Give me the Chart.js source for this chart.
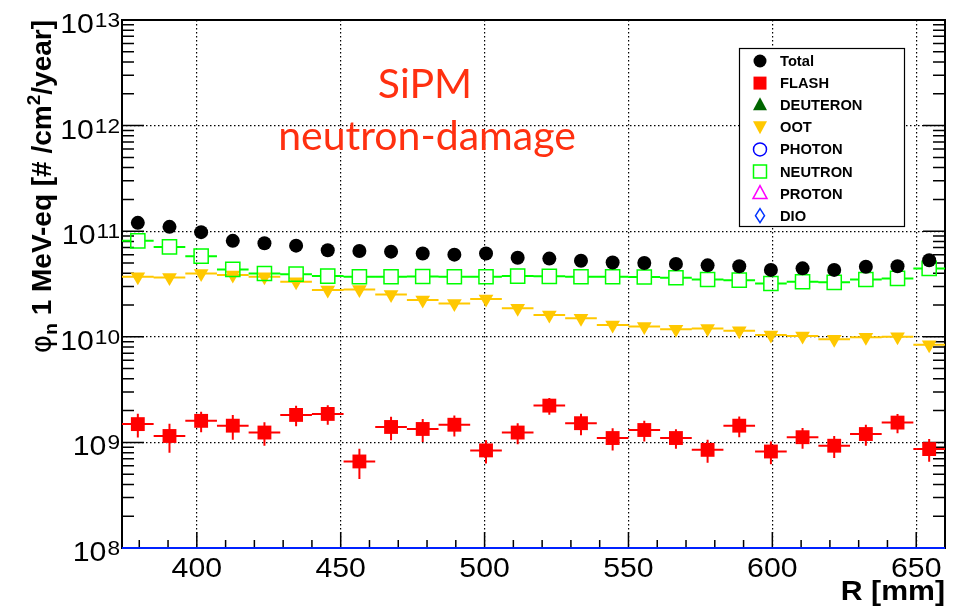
<!DOCTYPE html>
<html>
<head>
<meta charset="utf-8">
<script src="https://cdn.jsdelivr.net/npm/chart.js@4.4.1/dist/chart.umd.min.js"></script>
<style>
  html, body { margin: 0; padding: 0; background: #fff; }
  #wrap { width: 958px; height: 613px; }
</style>
</head>
<body>
<div id="wrap"><canvas id="chart" width="958" height="613"></canvas></div>
<script>
// bin centres in R [mm], bins are 11 mm wide
const binCenters = [379.5, 390.5, 401.5, 412.5, 423.5, 434.5, 445.5, 456.5, 467.5, 478.5, 489.5, 500.5, 511.5,
                    522.5, 533.5, 544.5, 555.5, 566.5, 577.5, 588.5, 599.5, 610.5, 621.5, 632.5, 643.5, 654.5];
const binHalfWidth = 5.5;

const totalFlux = [1.20e11, 1.10e11, 9.8e10, 8.1e10, 7.7e10, 7.3e10, 6.6e10, 6.5e10, 6.4e10, 6.15e10, 6.0e10, 6.15e10, 5.6e10,
                   5.5e10, 5.25e10, 5.05e10, 5.0e10, 4.9e10, 4.75e10, 4.65e10, 4.3e10, 4.45e10, 4.3e10, 4.6e10, 4.65e10, 5.3e10];
const flashFlux = [1.49e9, 1.15e9, 1.6e9, 1.44e9, 1.24e9, 1.82e9, 1.86e9, 6.6e8, 1.4e9, 1.34e9, 1.47e9, 8.4e8, 1.24e9,
                   2.23e9, 1.52e9, 1.1e9, 1.31e9, 1.1e9, 8.5e8, 1.44e9, 8.2e8, 1.12e9, 9.3e8, 1.2e9, 1.54e9, 8.65e8];
const flashErr = [3.8e8, 3.5e8, 3.5e8, 3.8e8, 3.1e8, 4.0e8, 3.9e8, 2.1e8, 3.5e8, 3.3e8, 3.3e8, 2.1e8, 2.8e8,
                  4.0e8, 3.5e8, 2.6e8, 2.9e8, 2.3e8, 2.1e8, 3.2e8, 2.0e8, 2.5e8, 2.2e8, 2.7e8, 3.2e8, 2.1e8];
const ootFlux = [3.7e10, 3.65e10, 3.98e10, 3.84e10, 3.7e10, 3.32e10, 2.77e10, 2.8e10, 2.52e10, 2.23e10, 2.07e10, 2.28e10, 1.86e10,
                 1.61e10, 1.5e10, 1.29e10, 1.25e10, 1.18e10, 1.2e10, 1.14e10, 1.04e10, 1.02e10, 9.5e9, 9.9e9, 1.0e10, 8.4e9];
const neutronFlux = [8.1e10, 7.1e10, 5.8e10, 4.35e10, 3.98e10, 3.92e10, 3.76e10, 3.7e10, 3.7e10, 3.72e10, 3.7e10, 3.7e10, 3.76e10,
                     3.74e10, 3.7e10, 3.7e10, 3.68e10, 3.62e10, 3.49e10, 3.44e10, 3.2e10, 3.32e10, 3.28e10, 3.49e10, 3.57e10, 4.44e10];
// empty components (all bins zero)
const deuteronFlux = [0, 0, 0, 0, 0, 0, 0, 0, 0, 0, 0, 0, 0, 0, 0, 0, 0, 0, 0, 0, 0, 0, 0, 0, 0, 0];
const photonFlux = [0, 0, 0, 0, 0, 0, 0, 0, 0, 0, 0, 0, 0, 0, 0, 0, 0, 0, 0, 0, 0, 0, 0, 0, 0, 0];
const protonFlux = [0, 0, 0, 0, 0, 0, 0, 0, 0, 0, 0, 0, 0, 0, 0, 0, 0, 0, 0, 0, 0, 0, 0, 0, 0, 0];
const dioFlux = [0, 0, 0, 0, 0, 0, 0, 0, 0, 0, 0, 0, 0, 0, 0, 0, 0, 0, 0, 0, 0, 0, 0, 0, 0, 0];

const xTicks = [400, 450, 500, 550, 600, 650];
const yTickExps = [8, 9, 10, 11, 12, 13];
const legendLabels = ['Total', 'FLASH', 'DEUTERON', 'OOT', 'PHOTON', 'NEUTRON', 'PROTON', 'DIO'];

const pts = vals => vals.map((v, i) => ({ x: binCenters[i], y: v }));

function drawText(ctx, text, x, y, font, align, sx) {
    ctx.save();
    ctx.font = font;
    ctx.textAlign = align;
    ctx.textBaseline = 'alphabetic';
    ctx.translate(x, y);
    ctx.scale(sx || 1, 1);
    ctx.fillText(text, 0, 0);
    ctx.restore();
}

function marker(ctx, kind, x, y, fill, stroke) {
    ctx.save();
    ctx.beginPath();
    if (kind === 'circle') ctx.arc(x, y, 6.5, 0, Math.PI * 2);
    if (kind === 'square') ctx.rect(x - 6.5, y - 6.5, 13, 13);
    if (kind === 'up') { ctx.moveTo(x, y - 8); ctx.lineTo(x + 7, y + 5); ctx.lineTo(x - 7, y + 5); ctx.closePath(); }
    if (kind === 'down') { ctx.moveTo(x, y + 7); ctx.lineTo(x + 7, y - 6); ctx.lineTo(x - 7, y - 6); ctx.closePath(); }
    if (kind === 'diamond') { ctx.moveTo(x, y - 7); ctx.lineTo(x + 4.5, y); ctx.lineTo(x, y + 7); ctx.lineTo(x - 4.5, y); ctx.closePath(); }
    if (fill) { ctx.fillStyle = fill; ctx.fill(); }
    if (stroke) { ctx.strokeStyle = stroke; ctx.lineWidth = 1.5; ctx.stroke(); }
    ctx.restore();
}

const rootStyle = {
    id: 'rootStyle',
    beforeDatasetsDraw(chart) {
        const { ctx, chartArea: a, scales: { x, y } } = chart;
        ctx.save();
        // frame
        ctx.strokeStyle = '#000';
        ctx.lineWidth = 2;
        ctx.strokeRect(a.left, a.top, a.right - a.left, a.bottom - a.top);
        // ticks
        ctx.lineWidth = 1.5;
        ctx.beginPath();
        for (let e = 8; e < 13; e++) {
            for (let m = 1; m <= 9; m++) {
                const py = y.getPixelForValue(m * Math.pow(10, e));
                const len = m === 1 ? 22 : 12;
                ctx.moveTo(a.left, py); ctx.lineTo(a.left + len, py);
                ctx.moveTo(a.right, py); ctx.lineTo(a.right - len, py);
            }
        }
        for (let r = 380; r <= 660; r += 10) {
            const px = x.getPixelForValue(r);
            const len = r % 50 === 0 ? 16 : 8;
            ctx.moveTo(px, a.bottom); ctx.lineTo(px, a.bottom - len);
        }
        ctx.stroke();
        // error bars
        chart.data.datasets.forEach(ds => {
            if (!ds.errBars) return;
            ctx.strokeStyle = ds.errColor;
            ctx.lineWidth = 2;
            ctx.beginPath();
            ds.data.forEach((p, i) => {
                const px = x.getPixelForValue(p.x);
                const py = y.getPixelForValue(p.y);
                const x1 = x.getPixelForValue(p.x - binHalfWidth);
                const x2 = x.getPixelForValue(p.x + binHalfWidth);
                const g = ds.gap || 0;
                if (g) {
                    ctx.moveTo(x1, py); ctx.lineTo(px - g, py);
                    ctx.moveTo(px + g, py); ctx.lineTo(x2, py);
                } else {
                    ctx.moveTo(x1, py); ctx.lineTo(x2, py);
                }
                if (ds.yErr) {
                    const e = ds.yErr[i];
                    ctx.moveTo(px, y.getPixelForValue(p.y + e));
                    ctx.lineTo(px, y.getPixelForValue(p.y - e));
                }
            });
            ctx.stroke();
        });
        ctx.restore();
    },
    afterDraw(chart) {
        const { ctx, chartArea: a, scales: { x, y } } = chart;
        ctx.save();
        ctx.fillStyle = '#000';
        // x labels
        xTicks.forEach(v => {
            drawText(ctx, String(v), x.getPixelForValue(v), 577, '28px "Liberation Sans", Arial', 'center', 1.08);
        });
        drawText(ctx, 'R [mm]', a.right, 600, 'bold 28px "Liberation Sans", Arial', 'right', 1.08);
        // y labels 10^n
        yTickExps.forEach(e => {
            const py = y.getPixelForValue(Math.pow(10, e));
            ctx.font = '21px "Liberation Sans", Arial';
            const ew = ctx.measureText(String(e)).width * 1.08;
            drawText(ctx, String(e), 120, py + 7, '21px "Liberation Sans", Arial', 'right', 1.08);
            drawText(ctx, '10', 120 - ew - 1, py + 13, '28px "Liberation Sans", Arial', 'right', 1.08);
        });
        // y title
        const segs = [
            { t: '\u03c6', f: '28px "DejaVu Sans", Arial', dy: 0 },
            { t: 'n', f: 'bold 19px "Liberation Sans", Arial', dy: 6 },
            { t: ' 1 MeV-eq [# /cm', f: 'bold 28px "Liberation Sans", Arial', dy: 0 },
            { t: '2', f: 'bold 19px "Liberation Sans", Arial', dy: -11 },
            { t: '/year]', f: 'bold 28px "Liberation Sans", Arial', dy: 0 }
        ];
        let total = 0;
        segs.forEach(s => { ctx.font = s.f; s.w = ctx.measureText(s.t).width; total += s.w; });
        ctx.save();
        ctx.translate(51, a.top);
        ctx.rotate(-Math.PI / 2);
        let cx = -total;
        ctx.textAlign = 'left';
        segs.forEach(s => { ctx.font = s.f; ctx.fillText(s.t, cx, s.dy); cx += s.w; });
        ctx.restore();
        // annotation
        ctx.fillStyle = '#ff3010';
        drawText(ctx, 'SiPM', 425, 98, '41px Lato', 'center');
        drawText(ctx, 'neutron-damage', 427, 150, '41px Lato', 'center');
        // legend
        ctx.fillStyle = '#fff';
        ctx.fillRect(739, 48, 165, 178);
        ctx.strokeStyle = '#000';
        ctx.lineWidth = 1.2;
        ctx.strokeRect(739.5, 48.5, 165, 178);
        chart.data.datasets.forEach((ds, i) => {
            const ly = 61 + i * 22.1;
            marker(ctx, ds.legMarker, 760, ly, ds.legFill, ds.legStroke);
            ctx.fillStyle = '#000';
            drawText(ctx, ds.label, 780, ly + 5, 'bold 14px "Liberation Sans", Arial', 'left', 1.05);
        });
        ctx.restore();
    }
};

const datasets = [
    { label: legendLabels[0], data: pts(totalFlux), pointStyle: 'circle', pointRadius: 7, backgroundColor: '#000', borderWidth: 0,
      legMarker: 'circle', legFill: '#000', order: 1 },
    { label: legendLabels[1], data: pts(flashFlux), pointStyle: 'rect', pointRadius: 9.8, backgroundColor: '#ff0000', borderWidth: 0,
      errBars: true, errColor: '#ff0000', yErr: flashErr, legMarker: 'square', legFill: '#ff0000', order: 4 },
    { label: legendLabels[2], data: pts(deuteronFlux), pointRadius: 0, errBars: true, errColor: '#006600',
      legMarker: 'up', legFill: '#006600', order: 5 },
    { label: legendLabels[3], data: pts(ootFlux), pointStyle: 'triangle', pointRotation: 180, pointRadius: 8.5, backgroundColor: '#ffc800',
      borderWidth: 0, errBars: true, errColor: '#ffc800', legMarker: 'down', legFill: '#ffc800', order: 3 },
    { label: legendLabels[4], data: pts(photonFlux), pointRadius: 0, errBars: true, errColor: '#0000ff',
      legMarker: 'circle', legStroke: '#0000ff', order: 6 },
    { label: legendLabels[5], data: pts(neutronFlux), pointStyle: 'rect', pointRadius: 10, backgroundColor: 'rgba(0,0,0,0)',
      borderColor: '#00ff00', borderWidth: 1.5, errBars: true, errColor: '#00ff00', gap: 7,
      legMarker: 'square', legStroke: '#00ff00', order: 2 },
    { label: legendLabels[6], data: pts(protonFlux), pointRadius: 0, errBars: true, errColor: '#ff00ff',
      legMarker: 'up', legStroke: '#ff00ff', order: 7 },
    { label: legendLabels[7], data: pts(dioFlux), pointRadius: 0, errBars: true, errColor: '#0022ff',
      legMarker: 'diamond', legStroke: '#0033ff', order: 8 }
];

new Chart(document.getElementById('chart'), {
    type: 'scatter',
    data: { datasets: datasets },
    options: {
        responsive: false,
        animation: false,
        layout: { padding: { left: 122, right: 13, top: 20, bottom: 65 } },
        plugins: { legend: { display: false }, tooltip: { enabled: false } },
        scales: {
            x: {
                type: 'linear', min: 374, max: 660,
                ticks: { display: false, stepSize: 50, includeBounds: false },
                grid: { color: '#000', lineWidth: 1.2, drawTicks: false },
                border: { display: false, dash: [1.5, 2.5] }
            },
            y: {
                type: 'logarithmic', min: 1e8, max: 1e13,
                afterBuildTicks: s => { s.ticks = yTickExps.map(e => ({ value: Math.pow(10, e) })); },
                ticks: { display: false },
                grid: { color: '#000', lineWidth: 1.2, drawTicks: false },
                border: { display: false, dash: [1.5, 2.5] }
            }
        }
    },
    plugins: [rootStyle]
});
</script>
</body>
</html>
